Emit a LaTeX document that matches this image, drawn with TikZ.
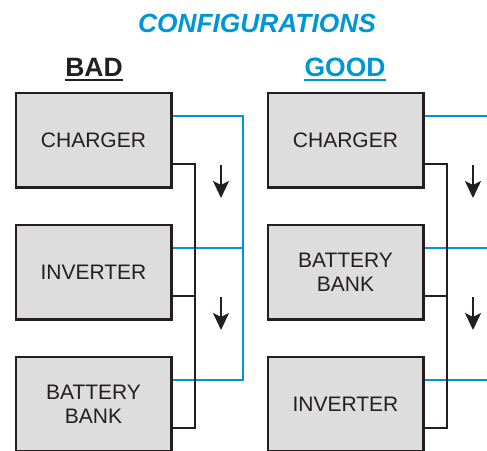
\documentclass[tikz,border=0pt]{standalone}
\usepackage{fontspec}
\setmainfont{Liberation Sans}
\usetikzlibrary{arrows.meta,calc}
\definecolor{cblue}{HTML}{0096D6}
\definecolor{boxgray}{HTML}{DDDDDD}
\definecolor{dark}{HTML}{231F20}
\begin{document}
\begin{tikzpicture}[x=1pt,y=-1pt,
  box/.style={draw=dark, line width=2.5pt, fill=boxgray, minimum width=155.5pt, minimum height=94.5pt,
    inner sep=0pt, align=center, font=\fontsize{21}{24}\selectfont, text=dark},
  bluel/.style={draw=cblue, line width=2.4pt},
  blackl/.style={draw=dark, line width=2.5pt},
  flow/.style={draw=dark, line width=2pt, -{Stealth[width=16pt,length=17pt,inset=4pt]}},
  head/.style={inner sep=0pt, anchor=base, font=\fontsize{26.5}{30}\selectfont\bfseries}]
\useasboundingbox (0,0) rectangle (487,450);
\clip (0,0) rectangle (487,450);

% titles
\node[inner sep=0pt, text=cblue, font=\fontsize{26.3}{30}\selectfont\bfseries\itshape] (title) at (257,23) {CONFIGURATIONS};
\node[head, text=dark] (bad) at (94,76) {BAD};
\node[head, text=cblue] (good) at (345,76) {GOOD};
\draw[dark, line width=2pt] ($(bad.base west)+(0,3.5)$) -- ($(bad.base east)+(0,3.5)$);
\draw[cblue, line width=2pt] ($(good.base west)+(0,3.5)$) -- ($(good.base east)+(0,3.5)$);

% BAD column
\node[box] (bc) at (93.5,140) {CHARGER};
\node[box] (bi) at (93.5,272) {INVERTER};
\node[box] (bb) at (93.5,404) {BATTERY\\BANK};

\coordinate (bbus1) at (243,116);
\coordinate (bbus2) at (243,248);
\coordinate (bbus3) at (243,380);
\coordinate (kbus1) at (195,164);
\coordinate (kbus2) at (195,296);
\coordinate (kbus3) at (195,428);

\draw[bluel] ($(bc.east)+(0,-24)$) -- (bbus1) -- (bbus3) -- ($(bb.east)+(0,-24)$);
\draw[bluel] ($(bi.east)+(0,-24)$) -- (bbus2);
\draw[blackl] ($(bc.east)+(0,24)$) -- (kbus1) -- (kbus3) -- ($(bb.east)+(0,24)$);
\draw[blackl] ($(bi.east)+(0,24)$) -- (kbus2);

\coordinate (ba1s) at (221,165);
\coordinate (ba1e) at (221,198);
\coordinate (ba2s) at (221,297);
\coordinate (ba2e) at (221,330);
\draw[flow] (ba1s) -- (ba1e);
\draw[flow] (ba2s) -- (ba2e);

% GOOD column
\node[box] (gc) at (345.5,140) {CHARGER};
\node[box] (gb) at (345.5,272) {BATTERY\\BANK};
\node[box] (gi) at (345.5,404) {INVERTER};

\coordinate (gbl1) at (490,116);
\coordinate (gbl2) at (490,248);
\coordinate (gbl3) at (490,380);
\coordinate (gk1) at (447,164);
\coordinate (gk2) at (447,296);
\coordinate (gk3) at (447,428);

\draw[bluel] ($(gc.east)+(0,-24)$) -- (gbl1);
\draw[bluel] ($(gb.east)+(0,-24)$) -- (gbl2);
\draw[bluel] ($(gi.east)+(0,-24)$) -- (gbl3);
\draw[blackl] ($(gc.east)+(0,24)$) -- (gk1) -- (gk3) -- ($(gi.east)+(0,24)$);
\draw[blackl] ($(gb.east)+(0,24)$) -- (gk2);

\coordinate (ga1s) at (473,165);
\coordinate (ga1e) at (473,198);
\coordinate (ga2s) at (473,297);
\coordinate (ga2e) at (473,330);
\draw[flow] (ga1s) -- (ga1e);
\draw[flow] (ga2s) -- (ga2e);
\end{tikzpicture}
\end{document}
